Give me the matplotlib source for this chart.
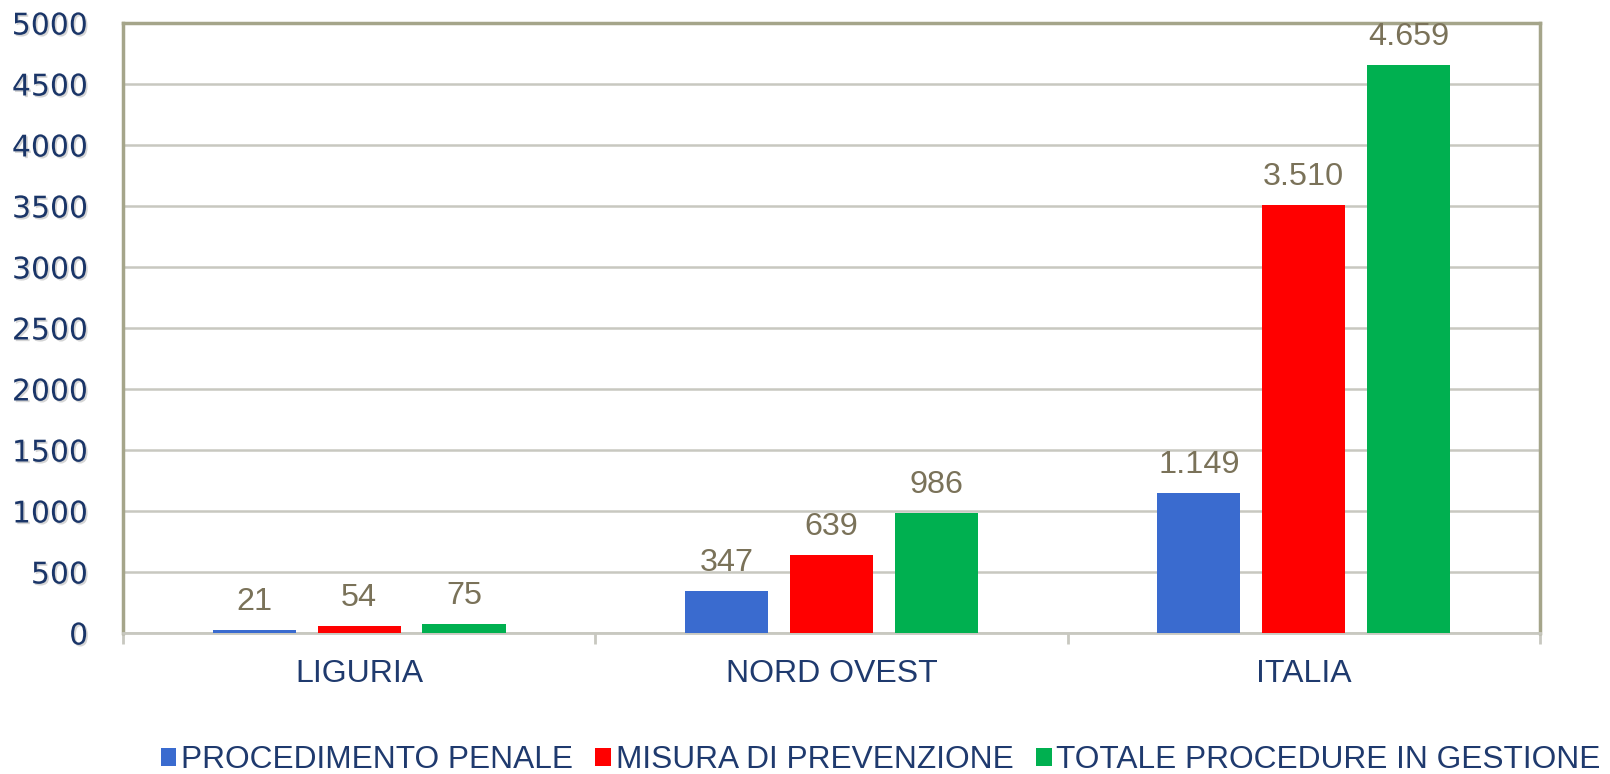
import numpy as np
import matplotlib
matplotlib.use('Agg')
import matplotlib.pyplot as plt
import matplotlib.patheffects as pe
from matplotlib.patches import Patch

regioni = ['LIGURIA', 'NORD OVEST', 'ITALIA']
serie = ['PROCEDIMENTO PENALE', 'MISURA DI PREVENZIONE', 'TOTALE PROCEDURE IN GESTIONE']
procedimento_penale = [21, 347, 1149]
misura_prevenzione = [54, 639, 3510]
totale_procedure = [75, 986, 4659]
colori = ['#3A6BCF', '#FF0000', '#00B050']

plt.rcParams['font.family'] = ['Liberation Sans', 'DejaVu Sans']

fig = plt.figure(figsize=(16.10, 7.74), dpi=100)
ax = fig.add_axes([0.0764, 0.1822, 0.88, 0.7881])

x = np.arange(len(regioni))
larghezza = 0.176
passo = 0.222
valori = [procedimento_penale, misura_prevenzione, totale_procedure]

for i, (nome, v, c) in enumerate(zip(serie, valori, colori)):
    pos = x + (i - 1) * passo
    ax.bar(pos, v, width=larghezza, color=c, label=nome, zorder=3)
    for px, py in zip(pos, v):
        testo = f'{py:,}'.replace(',', '.')
        ax.annotate(testo, (px, py), xytext=(0, 14.4), textcoords='offset points',
                    ha='center', va='baseline', fontsize=23.3, color='#7A7259')

ax.set_xlim(-0.5, 2.5)
ax.set_ylim(0, 5000)
ax.set_yticks(np.arange(0, 5001, 500))
ax.yaxis.grid(True, color='#C8C8C0', linewidth=1.8, zorder=0)
ax.set_axisbelow(True)

ax.set_xticks(x)
ax.set_xticklabels(regioni, fontsize=23, color='#1F3A6E')
ax.set_xticks([-0.5, 0.5, 1.5, 2.5], minor=True)
ax.tick_params(axis='x', which='major', length=0, pad=19)
ax.tick_params(axis='x', which='minor', length=8, width=2, color='#C8C8C0', direction='out')
ax.tick_params(axis='y', length=0, pad=25)

for lab in ax.get_yticklabels():
    lab.set_fontfamily('DejaVu Sans')
    lab.set_fontsize(21.5)
    lab.set_color('#1A3568')
    lab.set_path_effects([pe.withSimplePatchShadow(offset=(1.2, -1.2), shadow_rgbFace='#888888', alpha=0.35)])

for lato in ['left', 'top', 'right']:
    ax.spines[lato].set_color('#A5A58A')
    ax.spines[lato].set_linewidth(2.5)
ax.spines['bottom'].set_color('#C8C8C0')
ax.spines['bottom'].set_linewidth(2)

maniglie = [Patch(facecolor=c, edgecolor='none') for c in colori]
fig.legend(maniglie, serie, loc='center', bbox_to_anchor=(0.547, 0.018), ncol=3,
           frameon=False, fontsize=22.8, handlelength=0.5, handleheight=0.5,
           handletextpad=0.15, columnspacing=0.7, labelcolor='#1F3A6E')

fig.savefig('out.png', dpi=100)
